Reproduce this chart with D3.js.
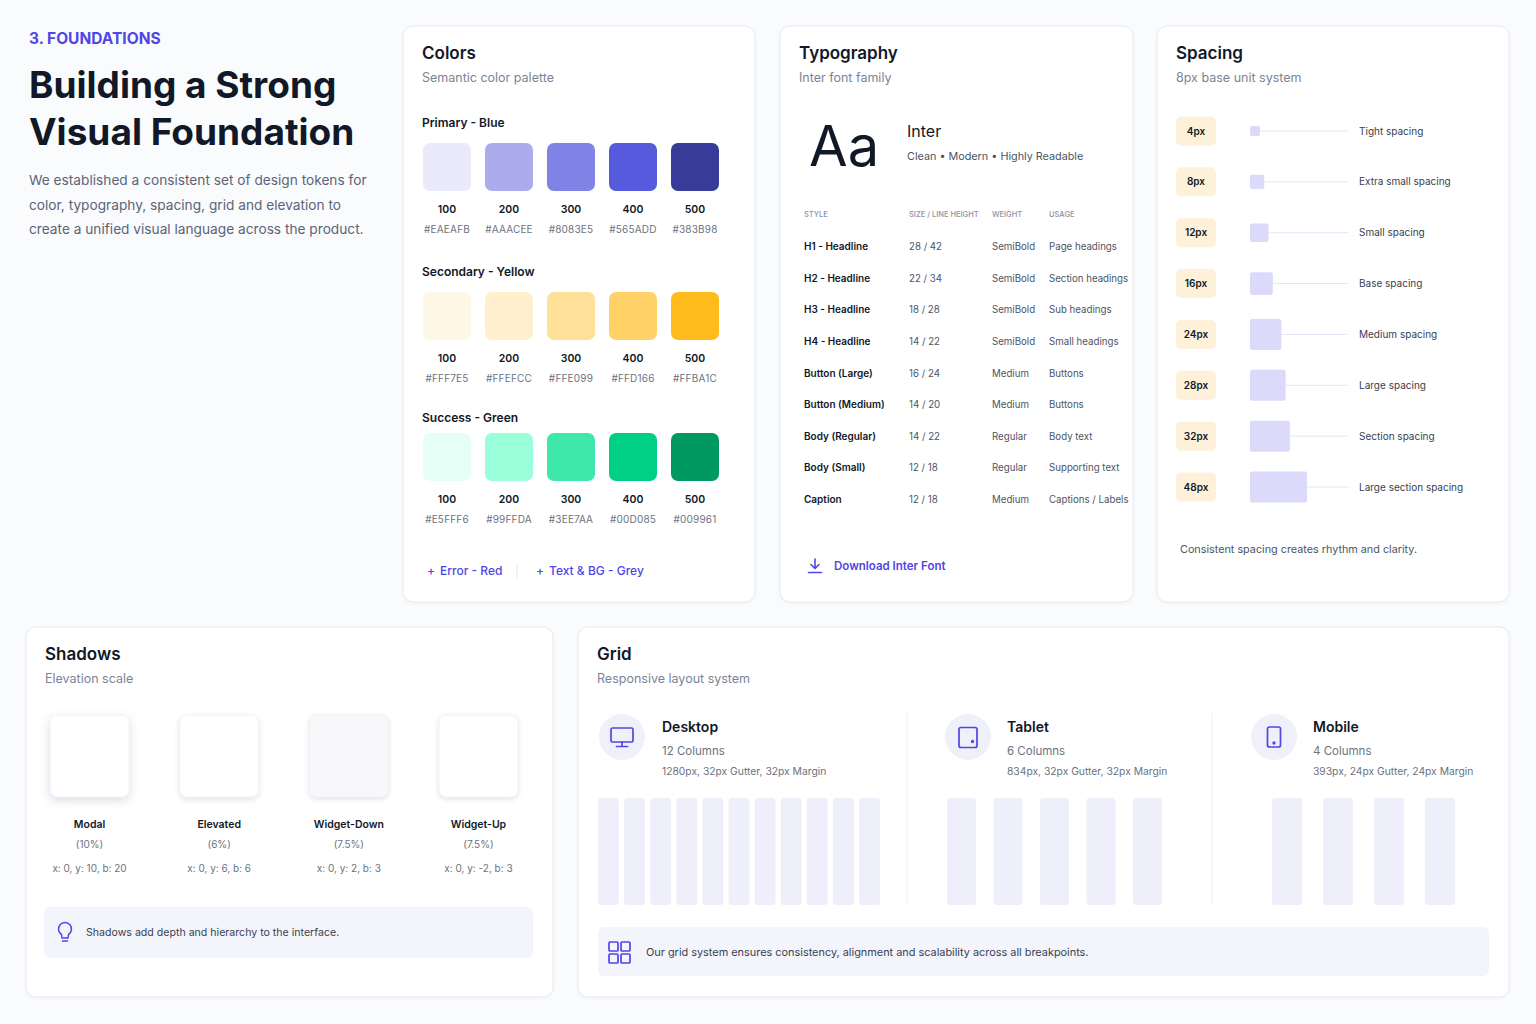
<!DOCTYPE html>
<html>
<head>
<meta charset="utf-8">
<script src="https://cdn.jsdelivr.net/npm/d3@7"></script>
<style>
  body { margin: 0; background: #fafbfd; }
  svg { display: block; font-family: Inter, "Noto Sans", sans-serif; }
</style>
</head>
<body>
<div id="chart"></div>
<script>
/* DATA */
const paletteNames = ["Primary - Blue", "Secondary - Yellow", "Success - Green"];
const shadeSteps = ["100", "200", "300", "400", "500"];
const blueShades = ["#EAEAFB", "#AAACEE", "#8083E5", "#565ADD", "#383B98"];
const yellowShades = ["#FFF7E5", "#FFEFCC", "#FFE099", "#FFD166", "#FFBA1C"];
const greenShades = ["#E5FFF6", "#99FFDA", "#3EE7AA", "#00D085", "#009961"];
const extraPalettes = ["Error - Red", "Text & BG - Grey"];

const typeColumns = ["STYLE", "SIZE / LINE HEIGHT", "WEIGHT", "USAGE"];
const typeStyles = ["H1 - Headline", "H2 - Headline", "H3 - Headline", "H4 - Headline",
  "Button (Large)", "Button (Medium)", "Body (Regular)", "Body (Small)", "Caption"];
const typeSizes = ["28 / 42", "22 / 34", "18 / 28", "14 / 22", "16 / 24", "14 / 20", "14 / 22", "12 / 18", "12 / 18"];
const typeWeights = ["SemiBold", "SemiBold", "SemiBold", "SemiBold", "Medium", "Medium", "Regular", "Regular", "Medium"];
const typeUsages = ["Page headings", "Section headings", "Sub headings", "Small headings",
  "Buttons", "Buttons", "Body text", "Supporting text", "Captions / Labels"];

const spacingValues = [4, 8, 12, 16, 24, 28, 32, 48];
const spacingLabels = ["Tight spacing", "Extra small spacing", "Small spacing", "Base spacing",
  "Medium spacing", "Large spacing", "Section spacing", "Large section spacing"];

const shadowNames = ["Modal", "Elevated", "Widget-Down", "Widget-Up"];
const shadowOpacity = [10, 6, 7.5, 7.5];
const shadowX = [0, 0, 0, 0];
const shadowY = [10, 6, 2, -2];
const shadowBlur = [20, 6, 3, 3];

const gridDevices = ["Desktop", "Tablet", "Mobile"];
const gridColumnText = ["12 Columns", "6 Columns", "4 Columns"];
const gridSpecs = ["1280px, 32px Gutter, 32px Margin", "834px, 32px Gutter, 32px Margin", "393px, 24px Gutter, 24px Margin"];
const gridShownColumns = [11, 5, 4];

/* CONSTANTS */
const width = 1536, height = 1024;
const ink = "#111827", body = "#4b5563", muted = "#6b7280", soft = "#7b8497", accent = "#4f46e5";

const svg = d3.select("#chart").append("svg")
  .attr("width", width)
  .attr("height", height);

svg.append("rect").attr("width", width).attr("height", height).attr("fill", "#fafbfd");

const defs = svg.append("defs");
defs.append("filter").attr("id", "cardShadow")
  .attr("x", "-5%").attr("y", "-5%").attr("width", "110%").attr("height", "110%")
  .append("feDropShadow")
  .attr("dx", 0).attr("dy", 1).attr("stdDeviation", 1.5)
  .attr("flood-color", "#1e2a5a").attr("flood-opacity", 0.04);

function txt(g, x, y, s, size, color, weight = 400, anchor = "start") {
  return g.append("text")
    .attr("x", x).attr("y", y)
    .attr("font-size", size)
    .attr("font-weight", weight)
    .attr("fill", color)
    .attr("text-anchor", anchor)
    .text(s);
}

/* HEADER */
txt(svg, 29, 44, "3. FOUNDATIONS", 15.5, accent, 700);
txt(svg, 29, 98, "Building a Strong", 37, ink, 700);
txt(svg, 29, 145, "Visual Foundation", 37, ink, 700);
["We established a consistent set of design tokens for",
 "color, typography, spacing, grid and elevation to",
 "create a unified visual language across the product."]
  .forEach((l, i) => txt(svg, 29, 185 + i * 24.5, l, 13.7, "#5b6478"));

/* CARDS */
const cards = [
  { x: 403, y: 26, w: 352, h: 576, title: "Colors", sub: "Semantic color palette" },
  { x: 780, y: 26, w: 353, h: 576, title: "Typography", sub: "Inter font family" },
  { x: 1157, y: 26, w: 352, h: 576, title: "Spacing", sub: "8px base unit system" },
  { x: 26, y: 627, w: 527, h: 370, title: "Shadows", sub: "Elevation scale" },
  { x: 578, y: 627, w: 931, h: 370, title: "Grid", sub: "Responsive layout system" }
];

const cardG = svg.selectAll("g.card")
  .data(cards)
  .join("g")
  .attr("class", "card");

cardG.append("rect")
  .attr("x", d => d.x).attr("y", d => d.y)
  .attr("width", d => d.w).attr("height", d => d.h)
  .attr("rx", 10)
  .attr("fill", "#fff")
  .attr("stroke", "#e7e9f0")
  .attr("filter", "url(#cardShadow)");

cardG.append("text")
  .attr("x", d => d.x + 19).attr("y", d => d.y + 33)
  .attr("font-size", 17).attr("font-weight", 600).attr("fill", ink)
  .text(d => d.title);

cardG.append("text")
  .attr("x", d => d.x + 19).attr("y", d => d.y + 56)
  .attr("font-size", 12.5).attr("fill", soft)
  .text(d => d.sub);

/* COLORS */
const palettes = [blueShades, yellowShades, greenShades];
const swatchX = d3.scaleBand().domain(shadeSteps).range([423, 719]).paddingInner(0.226);
const paletteY = d3.scaleOrdinal().domain(paletteNames).range([143, 292, 433]);
const paletteLabelGap = d3.scaleOrdinal().domain(paletteNames).range([16, 16, 11]);

const palG = svg.selectAll("g.palette")
  .data(paletteNames)
  .join("g")
  .attr("class", "palette")
  .attr("transform", d => `translate(0, ${paletteY(d)})`);

palG.append("text")
  .attr("x", 422).attr("y", d => -paletteLabelGap(d))
  .attr("font-size", 12).attr("font-weight", 600).attr("fill", ink)
  .text(d => d);

const sw = palG.selectAll("g.swatch")
  .data((d, i) => shadeSteps.map((s, j) => ({ step: s, hex: palettes[i][j] })))
  .join("g")
  .attr("class", "swatch");

sw.append("rect")
  .attr("x", d => swatchX(d.step)).attr("y", 0)
  .attr("width", swatchX.bandwidth()).attr("height", swatchX.bandwidth())
  .attr("rx", 7)
  .attr("fill", d => d.hex);

sw.append("text")
  .attr("x", d => swatchX(d.step) + swatchX.bandwidth() / 2).attr("y", 70)
  .attr("text-anchor", "middle")
  .attr("font-size", 10.5).attr("font-weight", 600).attr("fill", ink)
  .text(d => d.step);

sw.append("text")
  .attr("x", d => swatchX(d.step) + swatchX.bandwidth() / 2).attr("y", 90)
  .attr("text-anchor", "middle")
  .attr("font-size", 10).attr("fill", muted).attr("letter-spacing", 0.2)
  .text(d => d.hex);

const extraX = d3.scaleOrdinal().domain(extraPalettes).range([427, 536]);
extraPalettes.forEach(p => {
  txt(svg, extraX(p), 575, "+", 12, accent, 500);
  txt(svg, extraX(p) + 13, 575, p, 12, accent, 500);
});
svg.append("line")
  .attr("x1", 517).attr("x2", 517).attr("y1", 564).attr("y2", 578)
  .attr("stroke", "#e5e7eb");

/* TYPOGRAPHY */
txt(svg, 809, 166, "Aa", 56, ink, 400);
txt(svg, 907, 137, "Inter", 16, ink, 400);
txt(svg, 907, 160, "Clean • Modern • Highly Readable", 10.8, body);

const colX = d3.scaleOrdinal().domain(typeColumns).range([804, 909, 992, 1049]);
const rowY = d3.scalePoint().domain(typeStyles).range([250, 503]);

svg.selectAll("text.thead")
  .data(typeColumns)
  .join("text")
  .attr("class", "thead")
  .attr("x", d => colX(d)).attr("y", 217)
  .attr("font-size", 7.5).attr("font-weight", 500).attr("fill", "#8a93a6")
  .text(d => d);

const typeRows = typeStyles.map((s, i) => [s, typeSizes[i], typeWeights[i], typeUsages[i]]);
const rowG = svg.selectAll("g.trow")
  .data(typeRows)
  .join("g")
  .attr("class", "trow")
  .attr("transform", d => `translate(0, ${rowY(d[0])})`);

rowG.selectAll("text")
  .data(d => d)
  .join("text")
  .attr("x", (d, i) => colX(typeColumns[i]))
  .attr("font-size", (d, i) => i === 0 ? 10 : 9.7)
  .attr("font-weight", (d, i) => i === 0 ? 600 : 400)
  .attr("fill", (d, i) => i === 0 ? ink : body)
  .text(d => d);

const dl = svg.append("g").attr("fill", "none").attr("stroke", accent)
  .attr("stroke-width", 1.6).attr("stroke-linecap", "round").attr("stroke-linejoin", "round");
dl.append("path").attr("d", "M815,559 V568 M811,564.5 L815,568.5 L819,564.5 M808.5,572.5 H821.5");
txt(svg, 834, 570, "Download Inter Font", 11.5, accent, 600);

/* SPACING */
const spaceY = d3.scalePoint().domain(spacingValues).range([131, 487]);
const spaceW = d3.scaleLinear().domain([4, 48]).range([10, 57]);

const spG = svg.selectAll("g.space")
  .data(spacingValues)
  .join("g")
  .attr("class", "space")
  .attr("transform", d => `translate(0, ${spaceY(d)})`);

spG.append("rect")
  .attr("x", 1176).attr("y", -14.5).attr("width", 40).attr("height", 29).attr("rx", 5)
  .attr("fill", "#fdf1da");

spG.append("text")
  .attr("x", 1196).attr("y", 3.5).attr("text-anchor", "middle")
  .attr("font-size", 10).attr("font-weight", 600).attr("fill", ink)
  .text(d => d + "px");

spG.append("line")
  .attr("x1", d => 1250 + spaceW(d)).attr("x2", 1348)
  .attr("stroke", "#e4e4f7").attr("stroke-width", 1);

spG.append("rect")
  .attr("x", 1250)
  .attr("y", d => -Math.min(spaceW(d), 31) / 2)
  .attr("width", d => spaceW(d))
  .attr("height", d => Math.min(spaceW(d), 31))
  .attr("rx", 2)
  .attr("fill", "#dbdafb");

spG.append("text")
  .attr("x", 1359).attr("y", 3.5)
  .attr("font-size", 10).attr("fill", "#374151")
  .text((d, i) => spacingLabels[i]);

txt(svg, 1180, 553, "Consistent spacing creates rhythm and clarity.", 10.8, body);

/* SHADOWS */
const shadowBand = d3.scaleBand().domain(shadowNames).range([50, 518]).paddingInner(0.39);

shadowNames.forEach((n, i) => {
  defs.append("filter").attr("id", "sh" + i)
    .attr("x", "-40%").attr("y", "-40%").attr("width", "180%").attr("height", "180%")
    .append("feDropShadow")
    .attr("dx", shadowX[i])
    .attr("dy", 1.5 + Math.abs(shadowY[i]) * 0.15)
    .attr("stdDeviation", 2 + shadowBlur[i] * 0.1)
    .attr("flood-color", "#4a5a85")
    .attr("flood-opacity", 0.1 + shadowOpacity[i] / 100);
});

const shG = svg.selectAll("g.shadow")
  .data(shadowNames)
  .join("g")
  .attr("class", "shadow");

shG.append("rect")
  .attr("x", d => shadowBand(d)).attr("y", 715)
  .attr("width", shadowBand.bandwidth()).attr("height", 82)
  .attr("rx", 7)
  .attr("fill", (d, i) => i === 2 ? "#f8f8fa" : "#fff")
  .attr("stroke", "#eef0f5")
  .attr("filter", (d, i) => `url(#sh${i})`);

const shMid = d => shadowBand(d) + shadowBand.bandwidth() / 2;
shG.append("text")
  .attr("x", shMid).attr("y", 828).attr("text-anchor", "middle")
  .attr("font-size", 10.5).attr("font-weight", 600).attr("fill", ink)
  .text(d => d);
shG.append("text")
  .attr("x", shMid).attr("y", 848).attr("text-anchor", "middle")
  .attr("font-size", 10).attr("fill", muted)
  .text((d, i) => `(${shadowOpacity[i]}%)`);
shG.append("text")
  .attr("x", shMid).attr("y", 872).attr("text-anchor", "middle")
  .attr("font-size", 10).attr("fill", muted)
  .text((d, i) => `x: ${shadowX[i]}, y: ${shadowY[i]}, b: ${shadowBlur[i]}`);

svg.append("rect")
  .attr("x", 44).attr("y", 907).attr("width", 489).attr("height", 51).attr("rx", 6)
  .attr("fill", "#f4f5fc");
svg.append("path")
  .attr("d", "M61.5,934.5 A6.5,6.5 0 1 1 68.5,934.5 L68,938 H62 Z M62.5,941 H67.5")
  .attr("fill", "none").attr("stroke", accent).attr("stroke-width", 1.5)
  .attr("stroke-linejoin", "round").attr("stroke-linecap", "round");
txt(svg, 86, 936, "Shadows add depth and hierarchy to the interface.", 10.6, "#374151");

/* GRID */
const deviceIconX = d3.scaleOrdinal().domain(gridDevices).range([622, 968, 1274]);
const deviceTextX = d3.scaleOrdinal().domain(gridDevices).range([662, 1007, 1313]);
const deviceColRange = d3.scaleOrdinal().domain(gridDevices).range([[598, 880], [947, 1162], [1272, 1455]]);
const deviceColPad = d3.scaleOrdinal().domain(gridDevices).range([0.2, 0.376, 0.41]);

[907, 1212].forEach(x => svg.append("line")
  .attr("x1", x).attr("x2", x).attr("y1", 713).attr("y2", 905)
  .attr("stroke", "#eceef3"));

const devG = svg.selectAll("g.device")
  .data(gridDevices)
  .join("g")
  .attr("class", "device");

devG.append("circle")
  .attr("cx", d => deviceIconX(d)).attr("cy", 737).attr("r", 23)
  .attr("fill", "#f0f0fb");

devG.append("text")
  .attr("x", d => deviceTextX(d)).attr("y", 732)
  .attr("font-size", 14).attr("font-weight", 600).attr("fill", ink)
  .text(d => d);
devG.append("text")
  .attr("x", d => deviceTextX(d)).attr("y", 755)
  .attr("font-size", 11.5).attr("fill", muted)
  .text((d, i) => gridColumnText[i]);
devG.append("text")
  .attr("x", d => deviceTextX(d)).attr("y", 775)
  .attr("font-size", 10.3).attr("fill", muted)
  .text((d, i) => gridSpecs[i]);

devG.each(function (d, i) {
  const cols = d3.scaleBand()
    .domain(d3.range(gridShownColumns[i]))
    .range(deviceColRange(d))
    .paddingInner(deviceColPad(d));
  d3.select(this).selectAll("rect.col")
    .data(cols.domain())
    .join("rect")
    .attr("class", "col")
    .attr("x", c => cols(c)).attr("y", 798)
    .attr("width", cols.bandwidth()).attr("height", 107)
    .attr("rx", 3)
    .attr("fill", "#efeffb");
});

// note box goes under the icons
svg.append("rect")
  .attr("x", 598).attr("y", 927).attr("width", 891).attr("height", 49).attr("rx", 6)
  .attr("fill", "#f4f5fc");
txt(svg, 646, 956, "Our grid system ensures consistency, alignment and scalability across all breakpoints.", 10.9, "#374151");

const icon = svg.append("g").attr("fill", "none").attr("stroke", accent)
  .attr("stroke-width", 1.7).attr("stroke-linecap", "round").attr("stroke-linejoin", "round");
// desktop monitor
icon.append("rect").attr("x", 611).attr("y", 728).attr("width", 22).attr("height", 14).attr("rx", 1.5);
icon.append("path").attr("d", "M622,742 V746.5 M616.5,746.5 H627.5");
// tablet
icon.append("rect").attr("x", 959).attr("y", 727.5).attr("width", 18).attr("height", 20).attr("rx", 2);
icon.append("circle").attr("cx", 972.5).attr("cy", 741.5).attr("r", 0.8).attr("fill", accent);
// mobile
icon.append("rect").attr("x", 1267.5).attr("y", 727).attr("width", 13).attr("height", 20).attr("rx", 2);
icon.append("circle").attr("cx", 1274).attr("cy", 743).attr("r", 0.8).attr("fill", accent);
// grid note icon
[[609, 942], [621, 942], [609, 954], [621, 954]].forEach(p => icon.append("rect")
  .attr("x", p[0]).attr("y", p[1]).attr("width", 9).attr("height", 9).attr("rx", 1));
</script>
</body>
</html>
